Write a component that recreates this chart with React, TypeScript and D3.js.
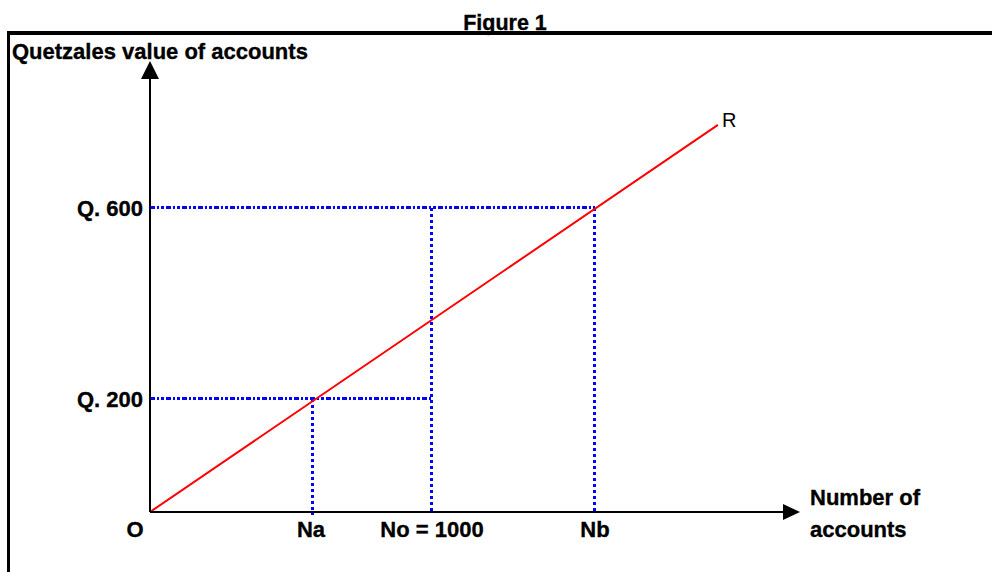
import React from "react";
import * as d3 from "d3";

// ---- data ----
const xTickLabels = ["Na", "No = 1000", "Nb"];
const xTickValues = [578, 1000, 1578];
const yTickLabels = ["Q. 200", "Q. 600"];
const yTickValues = [200, 600];
// line R (number of accounts, quetzales value)
const rN = [0, 2014];
const rV = [-37, 774];
// guide lines
const guideH_V = [200, 600];
const guideH_End = [1000, 1578];
const guideV_N = [578, 1000, 1578];
const guideV_Top = [200, 600, 600];

const W = 992;
const H = 572;
const FONT = "'Liberation Sans', Arial, Helvetica, sans-serif";

export default function App() {
  const x = d3.scaleLinear().domain([0, 2305]).range([150, 800]);
  const y = d3.scaleLinear().domain([-37, 908]).range([512, 61]);
  const x0 = x(0);
  const y0 = y(-37);

  const rData = rN.map((n, i) => [n, rV[i]] as [number, number]);
  const line = d3
    .line<[number, number]>()
    .x((d) => x(d[0]))
    .y((d) => y(d[1]));

  const xTip = x(2305);
  const yTip = y(908);
  const boldText = { fontWeight: "bold" as const, fill: "#000", stroke: "#000", strokeWidth: 0.35 };

  return (
    <svg
      width={W}
      height={H}
      style={{ position: "absolute", left: 0, top: 0, background: "#fff" }}
      fontFamily={FONT}
    >
      <rect x={0} y={0} width={W} height={H} fill="#fff" />
      {/* title */}
      <text x={505} y={30} textAnchor="middle" fontSize={21.5} {...boldText}>
        Figure 1
      </text>
      {/* frame */}
      <rect x={7} y={31} width={W} height={4} fill="#000" />
      <rect x={7} y={31} width={3} height={H} fill="#000" />

      {/* y-axis title */}
      <text x={12} y={59} fontSize={22} {...boldText}>
        Quetzales value of accounts
      </text>

      {/* guides horizontal */}
      {guideH_V.map((v, i) => (
        <line
          key={"h" + i}
          x1={x0}
          x2={x(guideH_End[i])}
          y1={y(v)}
          y2={y(v)}
          stroke="#0000ff"
          strokeWidth={3}
          strokeDasharray="5,2,2,2,3,2"
          shapeRendering="crispEdges"
        />
      ))}
      {/* guides vertical */}
      {guideV_N.map((n, i) => (
        <line
          key={"v" + i}
          x1={x(n)}
          x2={x(n)}
          y1={y(guideV_Top[i])}
          y2={i === 0 ? y0 + 3 : y0}
          stroke="#0000ff"
          strokeWidth={3}
          strokeDasharray="3,3"
          shapeRendering="crispEdges"
        />
      ))}

      {/* line R */}
      <path d={line(rData) || ""} fill="none" stroke="#ff0000" strokeWidth={2} />
      <text x={722} y={127} fontSize={20} fill="#000">
        R
      </text>

      {/* axes */}
      <line x1={x0} x2={x0} y1={y0} y2={yTip + 14} stroke="#000" strokeWidth={2} />
      <path d={`M${x0},${yTip} L${x0 - 9},${yTip + 18} L${x0 + 9},${yTip + 18} Z`} fill="#000" />
      <line x1={x0} x2={xTip - 14} y1={y0} y2={y0} stroke="#000" strokeWidth={2} />
      <path d={`M${xTip},${y0} L${xTip - 17},${y0 - 8} L${xTip - 17},${y0 + 8} Z`} fill="#000" />

      {/* y tick labels */}
      {yTickValues.map((v, i) => (
        <text key={"yl" + i} x={143} y={y(v) + 8} textAnchor="end" fontSize={22} {...boldText}>
          {yTickLabels[i]}
        </text>
      ))}

      {/* x tick labels */}
      <text x={135} y={537} textAnchor="middle" fontSize={22} {...boldText}>
        O
      </text>
      {xTickValues.map((n, i) => (
        <text
          key={"xl" + i}
          x={x(n) - (i === 0 ? 2 : 0)}
          y={537}
          textAnchor="middle"
          fontSize={22}
          {...boldText}
        >
          {xTickLabels[i]}
        </text>
      ))}

      {/* x-axis title */}
      <text x={810} y={505} fontSize={22} {...boldText}>
        Number of
      </text>
      <text x={810} y={537} fontSize={22} {...boldText}>
        accounts
      </text>
    </svg>
  );
}
